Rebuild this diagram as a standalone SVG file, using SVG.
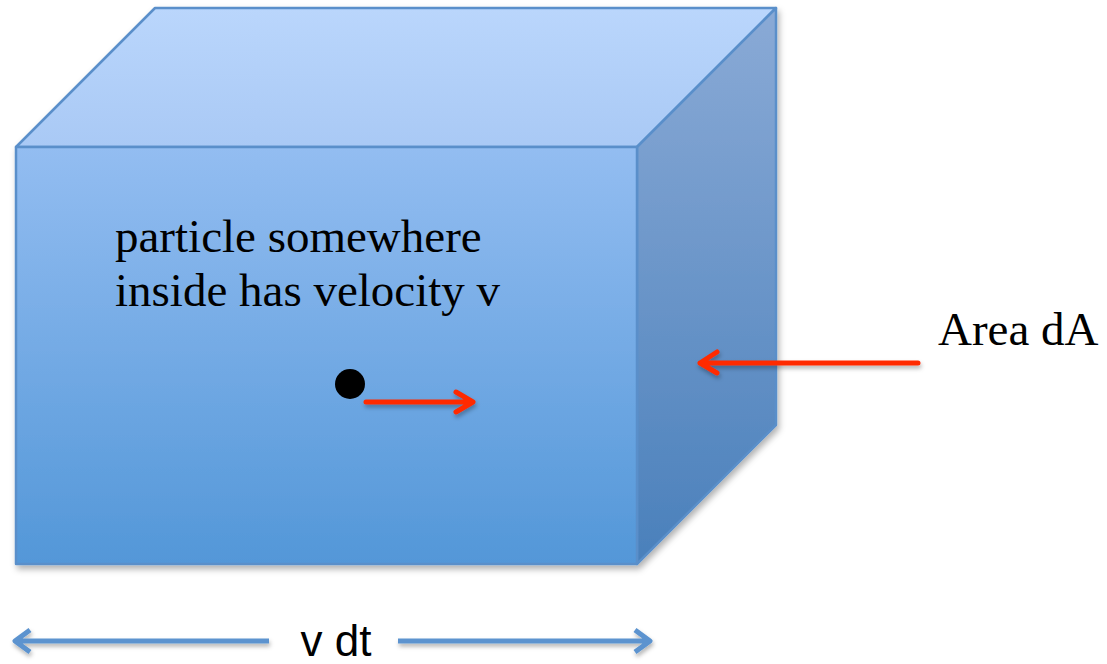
<svg xmlns="http://www.w3.org/2000/svg" width="1107" height="664" viewBox="0 0 1107 664">
<style>
.serif{font-family:"Liberation Serif","Times New Roman",serif;fill:#000}
.sans{font-family:"Liberation Sans",Arial,sans-serif;fill:#000}
.face{stroke:#5a8fca;stroke-width:2.5;stroke-linejoin:round}
.red{stroke:#ff2a00;stroke-width:5;fill:none;stroke-linecap:round;stroke-linejoin:round}
.blue{stroke:#5b93cf;stroke-width:5;fill:none;stroke-linecap:butt;stroke-linejoin:round}
</style>
<defs>
<linearGradient id="gTop" x1="0" y1="0" x2="0" y2="1"><stop offset="0" stop-color="#bad6fc"/><stop offset="1" stop-color="#a9c9f5"/></linearGradient>
<linearGradient id="gFront" x1="0" y1="0" x2="0" y2="1"><stop offset="0" stop-color="#93bdf1"/><stop offset="1" stop-color="#5397d8"/></linearGradient>
<linearGradient id="gSide" x1="0" y1="0" x2="0" y2="1"><stop offset="0" stop-color="#8aaad6"/><stop offset="1" stop-color="#4a80bb"/></linearGradient>
<filter id="sh" x="-10%" y="-10%" width="130%" height="140%"><feDropShadow dx="2" dy="4" stdDeviation="3" flood-color="#000" flood-opacity="0.3"/></filter>
<filter id="sh2" x="-10%" y="-50%" width="130%" height="250%"><feDropShadow dx="1" dy="3" stdDeviation="2" flood-color="#000" flood-opacity="0.3"/></filter>
</defs>
<g id="box" filter="url(#sh)">
<polygon class="face" fill="url(#gTop)" points="16,147 155,8 776,8 637,147"/>
<polygon class="face" fill="url(#gSide)" points="637,147 776,8 776,425 637,564"/>
<polygon class="face" fill="url(#gFront)" points="16,147 637,147 637,564 16,564"/>
</g>
<g id="label-particle">
<text class="serif" x="115" y="252" font-size="47">particle somewhere</text>
<text class="serif" x="115" y="306" font-size="47">inside has velocity v</text>
</g>
<g id="particle">
<circle cx="350" cy="384" r="15" fill="#000"/>
</g>
<g id="label-area">
<text class="serif" x="938" y="345" font-size="47">Area dA</text>
</g>
<g id="label-vdt">
<text class="sans" x="336" y="656" font-size="44" text-anchor="middle">v dt</text>
</g>
<g id="connectors">
<g filter="url(#sh2)">
<path class="red" d="M366,402 H472 M456,392 L473,402 L456,412"/>
<path class="red" d="M918,363 H700 M717,352 L700,363 L717,373"/>
</g>
<g filter="url(#sh2)">
<path class="blue" d="M269,641 H16 M30,630 L15,641 L30,652"/>
<path class="blue" d="M398,641 H649 M635,630 L650,641 L635,652"/>
</g>
</g>
</svg>
